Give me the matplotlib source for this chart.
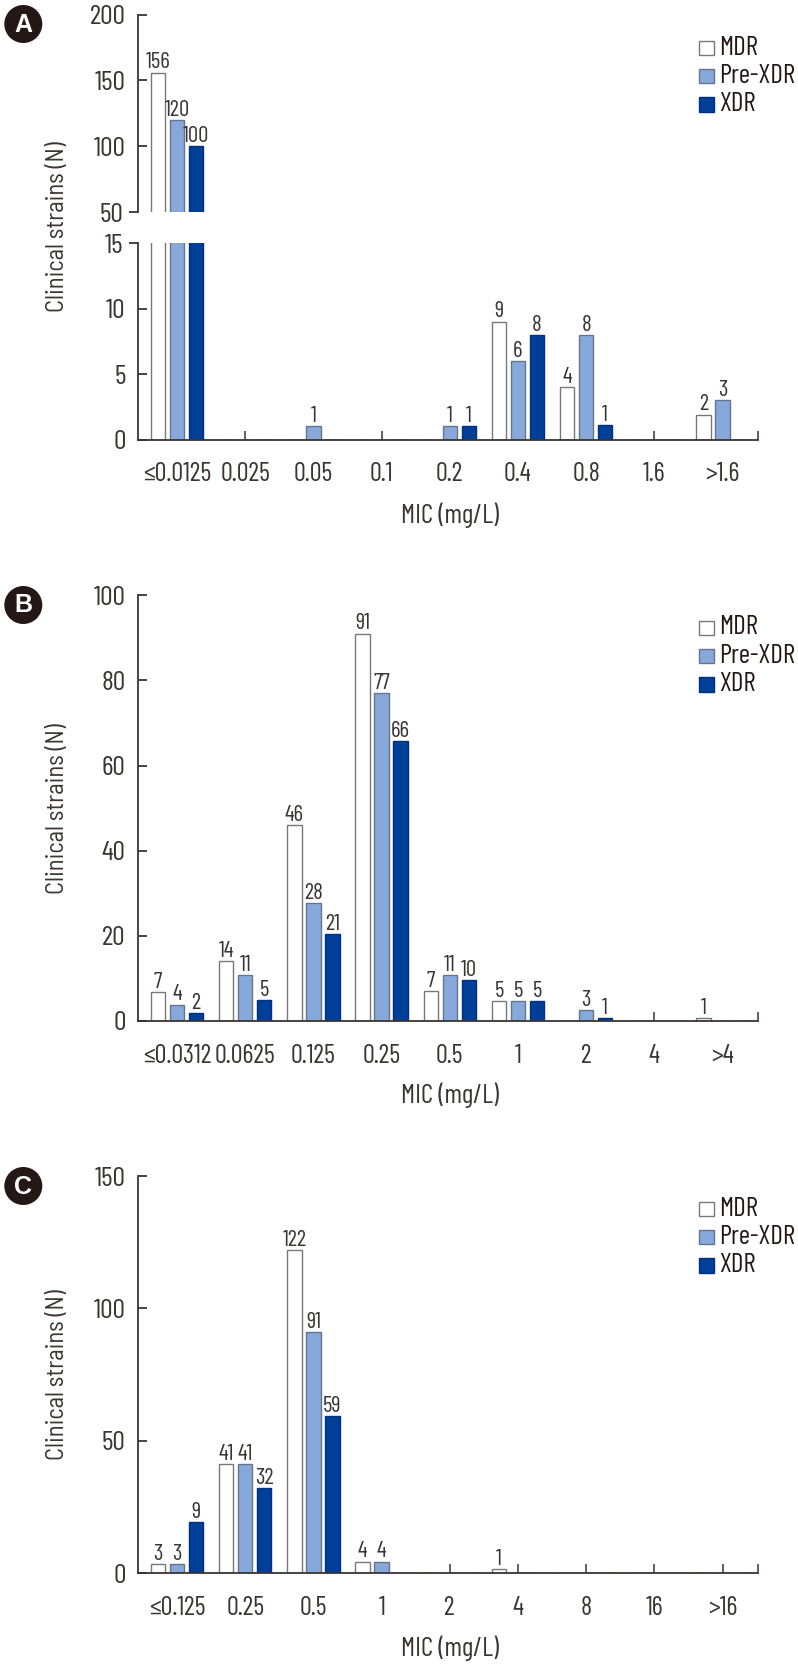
#!/usr/bin/env python
import matplotlib
matplotlib.use('Agg')
import matplotlib.pyplot as plt
from matplotlib.patches import Circle, Rectangle

W, H = 798, 1668
INK = '#3a3433'
NARROW = ['Barlow Condensed', 'Liberation Sans', 'DejaVu Sans']
WIDER = ['Barlow Semi Condensed', 'Liberation Sans', 'DejaVu Sans']
colors = ['#ffffff', '#86a8da', '#003f98']
edges = ['#77787b', '#66758c', '#003080']
series = ['MDR', 'Pre-XDR', 'XDR']

cats_a = ['≤0.0125', '0.025', '0.05', '0.1', '0.2', '0.4', '0.8', '1.6', '>1.6']
mdr_a = [156, 0, 0, 0, 0, 9, 4, 0, 1.9]
pre_a = [120, 0, 1, 0, 1, 6, 8, 0, 3]
xdr_a = [100, 0, 0, 0, 1, 8, 1.1, 0, 0]
lab_mdr_a = ['156', '', '', '', '', '9', '4', '', '2']
lab_pre_a = ['120', '', '1', '', '1', '6', '8', '', '3']
lab_xdr_a = ['100', '', '', '', '1', '8', '1', '', '']

cats_b = ['≤0.0312', '0.0625', '0.125', '0.25', '0.5', '1', '2', '4', '>4']
mdr_b = [6.8, 14, 46, 91, 6.9, 4.6, 0, 0, 0.7]
pre_b = [3.8, 10.8, 27.7, 77, 10.8, 4.6, 2.5, 0, 0]
xdr_b = [1.8, 4.8, 20.4, 65.7, 9.5, 4.6, 0.7, 0, 0]
lab_mdr_b = ['7', '14', '46', '91', '7', '5', '', '', '1']
lab_pre_b = ['4', '11', '28', '77', '11', '5', '3', '', '']
lab_xdr_b = ['2', '5', '21', '66', '10', '5', '1', '', '']

cats_c = ['≤0.125', '0.25', '0.5', '1', '2', '4', '8', '16', '>16']
mdr_c = [3.4, 41.2, 122, 4.4, 0, 1.5, 0, 0, 0]
pre_c = [3.4, 41.2, 91, 4.4, 0, 0, 0, 0, 0]
xdr_c = [19.4, 32.2, 59.4, 0, 0, 0, 0, 0, 0]
lab_mdr_c = ['3', '41', '122', '4', '', '1', '', '', '']
lab_pre_c = ['3', '41', '91', '4', '', '', '', '', '']
lab_xdr_c = ['9', '32', '59', '', '', '', '', '', '']

plt.rcParams['font.family'] = NARROW

fig = plt.figure(figsize=(W / 100, H / 100), dpi=100)

page = fig.add_axes([0, 0, 1, 1])
page.set_xlim(0, W)
page.set_ylim(H, 0)
page.axis('off')


def panel_axes(left, top, right, bottom):
    ax = fig.add_axes([left / W, 1 - bottom / H, (right - left) / W, (bottom - top) / H])
    ax.patch.set_alpha(0)
    ax.spines[['top', 'right', 'bottom']].set_visible(False)
    ax.spines['left'].set_linewidth(1.3)
    ax.spines['left'].set_color(INK)
    ax.set_xlim(-0.572, 8.52)
    return ax


def draw_bars(ax, heights, labels, lo=None, hi=None):
    for k in range(3):
        xs = [i + (k - 1) * 0.2786 for i in range(9)]
        ax.bar(xs, heights[k], width=0.21, color=colors[k], edgecolor=edges[k],
               linewidth=1.0, zorder=3)
        for x, v, t in zip(xs, heights[k], labels[k]):
            if not t or (lo is not None and v < lo) or (hi is not None and v > hi):
                continue
            ax.annotate(t, (x, v), xytext=(0, -0.5), textcoords='offset points', ha='center',
                        va='bottom', fontsize=16.5, color=INK, zorder=4, annotation_clip=False)


def style_y(ax, minor=None):
    ax.tick_params(axis='y', which='major', direction='in', length=6.5, width=1.3, color=INK,
                   labelsize=20, labelcolor=INK, pad=9)
    ax.tick_params(axis='y', which='minor', direction='out', length=6.5, width=1.3, color=INK,
                   labelsize=20, labelcolor=INK, pad=4)
    if minor is not None:
        ax.set_yticks([minor], [str(minor)], minor=True)


def style_x(ax, cats, hidden=()):
    ax.spines['bottom'].set_visible(True)
    ax.spines['bottom'].set_linewidth(1.3)
    ax.spines['bottom'].set_color(INK)
    ax.spines['bottom'].set_zorder(5)
    ax.set_xticks(range(9), cats)
    ax.set_xticks([8.52], minor=True)
    ax.tick_params(axis='x', which='both', direction='in', length=6.5, width=1.1, color=INK,
                   labelsize=19, labelcolor=INK, pad=16.5)
    ticks = ax.xaxis.get_major_ticks()
    for i in hidden:
        ticks[i].tick1line.set_visible(False)


def furniture(letter, badge_y, legend_dy, ylabel_y, xlabel_y):
    page.add_patch(Circle((23.3, badge_y), 19, color='#231815', lw=0))
    page.text(23.3, badge_y + 0.5, letter, color='white', fontsize=18, fontweight='bold',
              family='Liberation Sans', ha='center', va='center')
    page.text(57.5, ylabel_y, 'Clinical strains (N)', rotation=90, fontsize=17.7, color=INK,
              family=WIDER, ha='center', va='center')
    page.text(449.5, xlabel_y, 'MIC (mg/L)', fontsize=19.5, color=INK, ha='center', va='center')
    for k, name in enumerate(series):
        y = 47.5 + legend_dy + k * 28.3
        page.add_patch(Rectangle((699, y - 7), 14.5, 14.5, facecolor=colors[k], edgecolor=edges[k], lw=1.0))
        page.text(719, y, name, fontsize=19.5, color='#231815', ha='left', va='center')


# panel A, broken axis
heights = [mdr_a, pre_a, xdr_a]
labels = [lab_mdr_a, lab_pre_a, lab_xdr_a]
top = panel_axes(138, 14.7, 758, 212)
top.set_ylim(50, 200)
top.set_yticks([100, 150, 200])
draw_bars(top, heights, labels, lo=50)
top.set_xticks([])
style_y(top, minor=50)

low = panel_axes(138, 243.3, 758, 439.5)
low.set_ylim(0, 15)
low.set_yticks([0, 5, 10])
draw_bars(low, heights, labels, hi=15)
style_y(low, minor=15)
style_x(low, cats_a)
furniture('A', 24, 0, 227, 515)

# panel B
ax = panel_axes(138, 595.3, 758, 1020.8)
ax.set_ylim(0, 100)
ax.set_yticks([0, 20, 40, 60, 80, 100])
draw_bars(ax, [mdr_b, pre_b, xdr_b], [lab_mdr_b, lab_pre_b, lab_xdr_b])
style_y(ax)
style_x(ax, cats_b, hidden=[8])
furniture('B', 605, 580, 808.5, 1095)

# panel C
ax = panel_axes(138, 1176, 758, 1573.3)
ax.set_ylim(0, 150)
ax.set_yticks([0, 50, 100, 150])
draw_bars(ax, [mdr_c, pre_c, xdr_c], [lab_mdr_c, lab_pre_c, lab_xdr_c])
style_y(ax)
style_x(ax, cats_c)
furniture('C', 1186, 1161, 1375, 1648)

fig.savefig('out.png', dpi=100)
